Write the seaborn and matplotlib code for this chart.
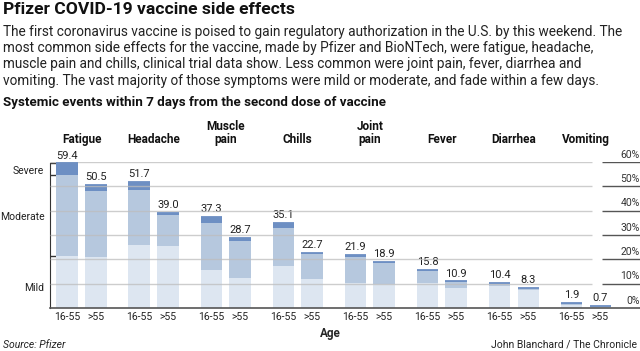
import matplotlib.pyplot as plt
import pandas as pd
import seaborn as sns

# Systemic events after dose 2, percent of participants
symptoms = ['Fatigue', 'Headache', 'Muscle\npain', 'Chills', 'Joint\npain', 'Fever', 'Diarrhea', 'Vomiting']
ages = ['16-55', '>55']
totals = [59.4, 50.5, 51.7, 39.0, 37.3, 28.7, 35.1, 22.7, 21.9, 18.9, 15.8, 10.9, 10.4, 8.3, 1.9, 0.7]
severe = [4.6, 2.6, 3.2, 0.7, 2.2, 1.0, 2.1, 0.7, 1.0, 0.6, 0.8, 0.3, 0.2, 0.1, 0.2, 0.0]
mild = [21.4, 21.0, 26.0, 25.5, 15.6, 12.5, 17.4, 12.0, 10.3, 10.0, 10.3, 8.2, 9.0, 7.2, 1.4, 0.5]
pct_ticks = [0, 10, 20, 30, 40, 50, 60]

SEV, MOD, MILD = '#6d8fc3', '#b6c8de', '#dde6f1'

df = pd.DataFrame({
    'symptom': [s for s in symptoms for _ in ages],
    'age': ages * len(symptoms),
    'total': totals,
    'severe': severe,
    'mild': mild,
})
df['upto_moderate'] = df['total'] - df['severe']

sns.set_style('white')
plt.rcParams['font.family'] = ['Roboto', 'DejaVu Sans']

fig = plt.figure(figsize=(6.4, 3.51), dpi=100)
ax = fig.add_axes([0.078, 0.1225, 0.922, 0.416])

# stacked look: draw cumulative heights from tallest to shortest
for col, color in [('total', SEV), ('upto_moderate', MOD), ('mild', MILD)]:
    sns.barplot(data=df, x='symptom', y=col, hue='age', palette=[color, color],
                width=0.8, gap=0.25, saturation=1, errorbar=None, legend=False,
                linewidth=0, ax=ax)

xpos = [i + off for i in range(len(symptoms)) for off in (-0.2, 0.2)]
ax.hlines(df['total'], [x - 0.15 for x in xpos], [x + 0.15 for x in xpos],
          color=SEV, lw=1.3, zorder=5)
for x, t in zip(xpos, df['total']):
    ax.text(x, t + 1.2, f'{t:.1f}', ha='center', va='bottom', fontsize=8, color='#222')

ax.set_xlim(-0.44, 7.75)
ax.set_ylim(0, 60)

# gridlines drawn over the bars, with underlined labels on the right
for v in pct_ticks[1:]:
    ax.hlines(v, -0.44, 7.08, color='#bdbdbd', lw=1, alpha=0.75, zorder=4)
for v in pct_ticks:
    if v:
        ax.hlines(v, 7.22, 7.75, color='#555555', lw=1, zorder=4)
    ax.text(7.75, v + 0.9, f'{v}%', ha='right', va='bottom', fontsize=7.5, color='#333')

# category headers
for i, s in enumerate(symptoms):
    ax.text(i, 66.5, s, ha='center', va='bottom', fontsize=8.5, weight='bold',
            linespacing=1.0, clip_on=False, color='#111')

ax.set_xticks(xpos)
ax.set_xticklabels(ages * len(symptoms), fontsize=7.5, color='#222')
ax.tick_params(axis='x', length=0, pad=3)
ax.set_xlabel('')
ax.set_ylabel('')

# severity bracket on the left, using the fatigue 16-55 segments
f_tot, f_sev, f_mild = totals[0], severe[0], mild[0]
ax.set_yticks([f_mild, f_tot - f_sev, f_tot])
ax.set_yticklabels([])
ax.set_yticks([(f_tot + f_tot - f_sev) / 2 - 0.5, (f_mild + f_tot - f_sev) / 2 - 0.5, 8.6], minor=True)
ax.set_yticklabels(['Severe', 'Moderate', 'Mild'], minor=True, fontsize=7.5, color='#222')
ax.tick_params(axis='y', which='major', direction='in', length=5, width=1, color='#333', left=True)
ax.tick_params(axis='y', which='minor', length=0, pad=4)

sns.despine(ax=ax, top=True, right=True)
ax.spines['left'].set_bounds(0, f_tot)
ax.spines['left'].set_color('#333')
ax.spines['bottom'].set_color('#555')
ax.spines['bottom'].set_linewidth(1.2)

body = ('The first coronavirus vaccine is poised to gain regulatory authorization in the U.S. by this weekend. The\n'
        'most common side effects for the vaccine, made by Pfizer and BioNTech, were fatigue, headache,\n'
        'muscle pain and chills, clinical trial data show. Less common were joint pain, fever, diarrhea and\n'
        'vomiting. The vast majority of those symptoms were mild or moderate, and fade within a few days.')
fig.text(0.005, 0.995, 'Pfizer COVID-19 vaccine side effects', va='top', fontsize=12.6,
         weight='bold', color='#111')
fig.text(0.005, 1 - 25 / 351, body, va='top', fontsize=9.8, linespacing=1.2, color='#222')
fig.text(0.005, 1 - 102 / 351, 'Systemic events within 7 days from the second dose of vaccine',
         va='center', fontsize=9.6, weight='bold', color='#111')
fig.text(330 / 640, 1 - 333 / 351, 'Age', ha='center', va='center', fontsize=8.5, weight='bold')
fig.text(0.005, 1 - 345 / 351, 'Source: Pfizer', va='center', fontsize=7.5, style='italic', color='#222')
fig.text(0.995, 1 - 345 / 351, 'John Blanchard / The Chronicle', ha='right', va='center',
         fontsize=7.5, color='#222')

fig.savefig('out.png', dpi=100)
